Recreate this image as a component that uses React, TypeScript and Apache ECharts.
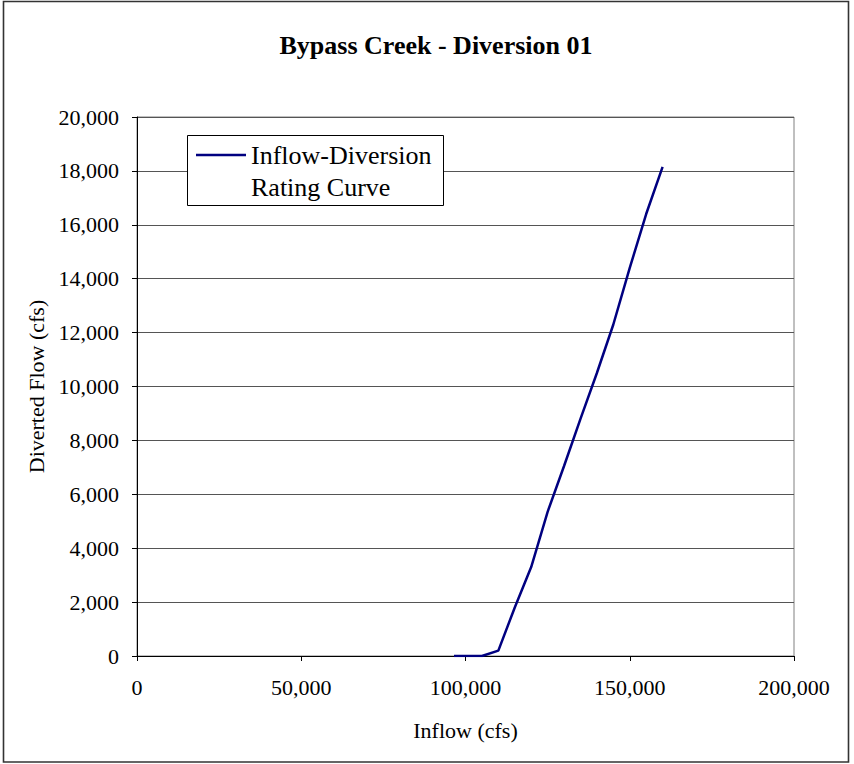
import React, { useEffect, useRef } from "react";
import * as echarts from "echarts";

const inflow = [96500, 105000, 110000, 115000, 120000, 125000, 130000, 135000, 140000, 145000, 150000, 155000, 160000];
const diverted = [0, 0, 200, 1800, 3300, 5350, 7050, 8800, 10500, 12300, 14400, 16400, 18150];
const seriesName = "Inflow-Diversion Rating Curve";
const legendLines = ["Inflow-Diversion", "Rating Curve"];
const titleText = "Bypass Creek - Diversion 01";
const xName = "Inflow (cfs)";
const yName = "Diverted Flow (cfs)";

const FONT = "'Liberation Serif', 'Times New Roman', serif";
const fmt = (v: number) => v.toLocaleString("en-US");

export default function App() {
  const ref = useRef<HTMLDivElement>(null);
  useEffect(() => {
    if (!ref.current) return;
    const chart = echarts.init(ref.current, null, { renderer: "svg" });
    chart.setOption({
      animation: false,
      backgroundColor: "#ffffff",
      textStyle: { fontFamily: FONT },
      title: {
        text: titleText,
        left: 431,
        textAlign: "center",
        top: 27,
        textStyle: { fontFamily: FONT, fontWeight: "bold", fontSize: 26, color: "#000" },
      },
      grid: {
        left: 137,
        right: 60,
        top: 117,
        bottom: 108,
        show: true,
        borderColor: "#808080",
        borderWidth: 1,
        backgroundColor: "transparent",
      },
      legend: {
        show: true,
        left: 196,
        top: 107,
        padding: 0,
        itemWidth: 50,
        itemHeight: 14,
        z: 5,
        data: [
          {
            name: seriesName,
            icon: "path://M0,6 L50,6 L50,8.5 L0,8.5 Z",
            itemStyle: { color: "#000080" },
          },
        ],
        formatter: () => "\n" + legendLines.join("\n"),
        textStyle: {
          fontFamily: FONT,
          fontSize: 26,
          color: "#000",
          lineHeight: 32,
        },
      },
      graphic: [
        {
          type: "rect",
          z: 3,
          shape: { x: 187.5, y: 135.5, width: 256, height: 70 },
          style: { fill: "#ffffff", stroke: "#000", lineWidth: 1 },
        },
        {
          type: "rect",
          z: 10,
          silent: true,
          shape: { x: 3.5, y: 1.5, width: 845, height: 760.5 },
          style: { fill: "none", stroke: "#333", lineWidth: 1.6 },
        },
      ],
      xAxis: {
        type: "value",
        min: 0,
        max: 200000,
        interval: 50000,
        name: xName,
        nameLocation: "middle",
        nameGap: 63,
        nameTextStyle: { fontFamily: FONT, fontSize: 22, color: "#000" },
        axisLine: { show: true, onZero: false, lineStyle: { color: "#000", width: 1 } },
        axisTick: { show: true, inside: false, length: 5, lineStyle: { color: "#000" } },
        axisLabel: {
          formatter: (v: number) => fmt(v),
          fontFamily: FONT,
          fontSize: 22,
          color: "#000",
          margin: 20,
        },
        splitLine: { show: false },
      },
      yAxis: {
        type: "value",
        min: 0,
        max: 20000,
        interval: 2000,
        name: yName,
        nameLocation: "middle",
        nameGap: 90,
        nameTextStyle: { fontFamily: FONT, fontSize: 22, color: "#000" },
        axisLine: { show: true, onZero: false, lineStyle: { color: "#000", width: 1 } },
        axisTick: { show: true, inside: false, length: 5, lineStyle: { color: "#000" } },
        axisLabel: {
          formatter: (v: number) => fmt(v),
          fontFamily: FONT,
          fontSize: 22,
          color: "#000",
          margin: 18,
        },
        splitLine: { show: true, lineStyle: { color: "#555", width: 1 } },
      },
      series: [
        {
          name: seriesName,
          type: "line",
          data: inflow.map((x, i) => [x, diverted[i]]),
          showSymbol: false,
          symbol: "none",
          z: 2,
          lineStyle: { color: "#000080", width: 2.5 },
          itemStyle: { color: "#000080" },
        },
      ],
    });
    return () => chart.dispose();
  }, []);
  return (
    <div
      ref={ref}
      style={{ position: "fixed", left: 0, top: 0, width: 854, height: 764 }}
    />
  );
}
